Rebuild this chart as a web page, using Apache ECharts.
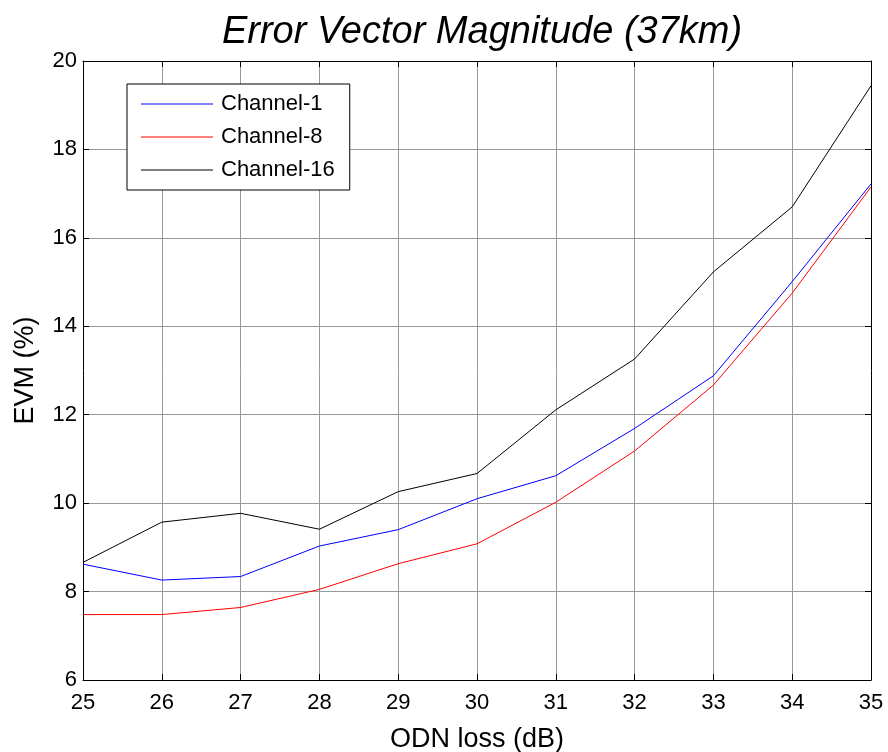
<!DOCTYPE html>
<html>
<head>
<meta charset="utf-8">
<script src="https://cdn.jsdelivr.net/npm/echarts@6/dist/echarts.min.js"></script>
<style>
    html, body { margin: 0; padding: 0; background: #fff; }
    #chart-box { width: 888px; height: 752px; }
</style>
</head>
<body>
<div id="chart-box"></div>
<script>
    // ODN loss (dB)
    let odnLoss = [25, 26, 27, 28, 29, 30, 31, 32, 33, 34, 35];
    let channel1 = [8.62, 8.26, 8.34, 9.03, 9.40, 10.10, 10.62, 11.69, 12.88, 15.01, 17.22];
    let channel8 = [7.48, 7.48, 7.64, 8.05, 8.63, 9.08, 10.02, 11.18, 12.67, 14.75, 17.15];
    let channel16 = [8.66, 9.57, 9.77, 9.41, 10.26, 10.67, 12.11, 13.26, 15.23, 16.70, 19.44];

    let font = 'Liberation Sans, Arial, sans-serif';

    function pairs(values) {
        return odnLoss.map(function (x, i) {
            return [x, values[i]];
        });
    }

    function lineSeries(name, values, color) {
        return {
            name: name,
            type: 'line',
            data: pairs(values),
            symbol: 'none',
            lineStyle: {color: color, width: 1},
            itemStyle: {color: color},
            emphasis: {disabled: true},
            animation: false
        };
    }

    let option = {
        backgroundColor: '#fff',
        title: {
            text: 'Error Vector Magnitude (37km)',
            left: 477,
            top: 8,
            textAlign: 'center',
            textStyle: {fontFamily: font, fontSize: 38, fontStyle: 'italic', fontWeight: 'normal', color: '#000'}
        },
        legend: {
            orient: 'vertical',
            left: 127,
            top: 84,
            backgroundColor: '#fff',
            borderColor: '#000',
            borderWidth: 1,
            padding: [9, 15, 9, 14],
            itemWidth: 72,
            itemHeight: 1,
            itemGap: 11,
            icon: 'rect',
            textStyle: {fontFamily: font, fontSize: 22, color: '#000', padding: [0, 0, 0, 3]},
            data: ['Channel-1', 'Channel-8', 'Channel-16']
        },
        grid: {left: 83, right: 17, top: 61, bottom: 72, containLabel: false, outerBoundsMode: 'none'},
        xAxis: [
            {
                type: 'value',
                min: 25,
                max: 35,
                interval: 1,
                name: 'ODN loss (dB)',
                nameLocation: 'middle',
                nameGap: 46,
                nameTextStyle: {fontFamily: font, fontSize: 27, color: '#000'},
                axisLine: {lineStyle: {color: '#000', width: 1}},
                axisTick: {inside: true, length: 6, lineStyle: {color: '#000'}},
                axisLabel: {fontFamily: font, fontSize: 22, color: '#000', margin: 12},
                splitLine: {show: true, lineStyle: {color: '#999', width: 1}}
            },
            {
                type: 'value',
                position: 'top',
                min: 25,
                max: 35,
                interval: 1,
                axisLine: {onZero: false, lineStyle: {color: '#000', width: 1}},
                axisTick: {inside: true, length: 6, lineStyle: {color: '#000'}},
                axisLabel: {show: false},
                splitLine: {show: false}
            }
        ],
        yAxis: [
            {
                type: 'value',
                min: 6,
                max: 20,
                interval: 2,
                name: 'EVM (%)',
                nameLocation: 'middle',
                nameGap: 44,
                nameTextStyle: {fontFamily: font, fontSize: 27, color: '#000'},
                axisLine: {show: true, lineStyle: {color: '#000', width: 1}},
                axisTick: {show: true, inside: true, length: 6, lineStyle: {color: '#000'}},
                axisLabel: {fontFamily: font, fontSize: 22, color: '#000', margin: 6},
                splitLine: {show: true, lineStyle: {color: '#999', width: 1}}
            },
            {
                type: 'value',
                position: 'right',
                min: 6,
                max: 20,
                interval: 2,
                axisLine: {show: true, onZero: false, lineStyle: {color: '#000', width: 1}},
                axisTick: {show: true, inside: true, length: 6, lineStyle: {color: '#000'}},
                axisLabel: {show: false},
                splitLine: {show: false}
            }
        ],
        series: [
            lineSeries('Channel-1', channel1, '#0000ff'),
            lineSeries('Channel-8', channel8, '#ff0000'),
            lineSeries('Channel-16', channel16, '#000000')
        ]
    };

    let chart = echarts.init(document.getElementById('chart-box'));
    chart.setOption(option);
</script>
</body>
</html>
